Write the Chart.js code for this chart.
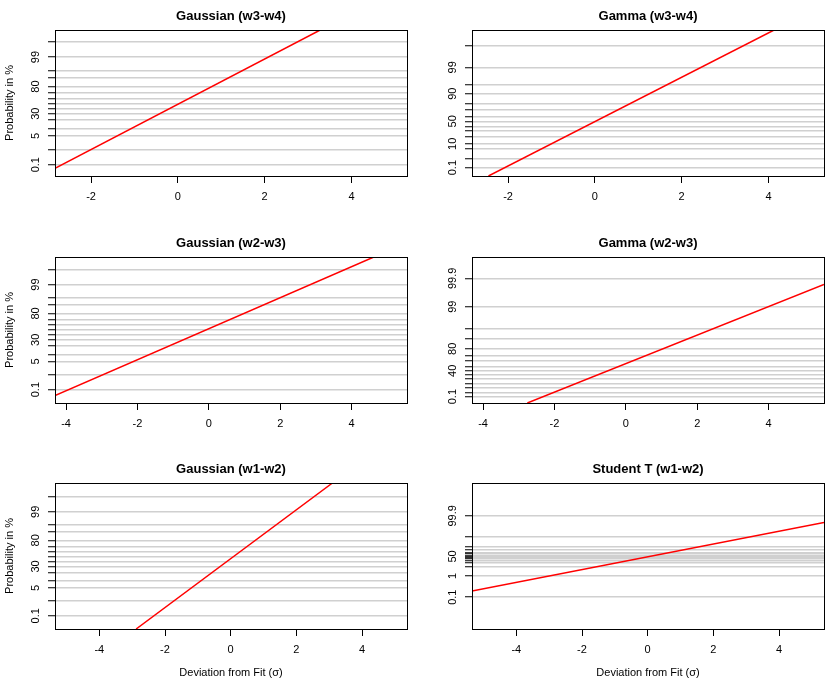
<!DOCTYPE html>
<html>
<head>
<meta charset="utf-8">
<script src="https://cdn.jsdelivr.net/npm/chart.js@4"></script>
<style>
  body { margin: 0; background: #fff; }
  #wrap { position: relative; width: 835px; height: 680px; }
  #wrap canvas { position: absolute; }
</style>
</head>
<body>
<div id="wrap"></div>
<script>
// probability levels (%) on every y axis
const probs = ['0.1', '1', '5', '10', '20', '30', '40', '50', '60', '70', '80', '90', '95', '99', '99.9'];

// theoretical quantiles of those levels for each distribution
const qGauss = [-3.09, -2.33, -1.64, -1.28, -0.84, -0.52, -0.25, 0, 0.25, 0.52, 0.84, 1.28, 1.64, 2.33, 3.09];
const qGammaW34 = [-2.32, -1.87, -1.40, -1.13, -0.77, -0.48, -0.25, 0, 0.25, 0.57, 0.87, 1.38, 1.82, 2.70, 3.80];
const qGammaW23 = [-1.52, -1.35, -1.10, -0.90, -0.65, -0.43, -0.23, 0, 0.27, 0.53, 0.87, 1.40, 1.90, 2.98, 4.40];
const qStudentW12 = [-2.03, -0.97, -0.50, -0.33, -0.195, -0.117, -0.055, 0, 0.055, 0.117, 0.195, 0.33, 0.50, 0.97, 2.03];

// which level labels are printed
const shownGauss = ['0.1', '5', '30', '80', '99'];
const shownGammaW34 = ['0.1', '10', '50', '90', '99'];
const shownGammaW23 = ['0.1', '40', '80', '99', '99.9'];
const shownStudent = ['0.1', '1', '50', '99.9'];

const xTicks = [-4, -2, 0, 2, 4];

// axis ranges
const xRangeW34 = [-2.83, 5.28];
const xRangeW23 = [-4.31, 5.55];
const xRangeW12 = [-5.35, 5.37];
const yRangeGaussW34 = [-3.66, 3.69];
const yRangeGammaW34 = [-2.74, 4.57];
const yRangeGaussW23 = [-3.78, 3.75];
const yRangeGammaW23 = [-1.84, 5.47];
const yRangeGaussW12 = [-3.78, 3.83];
const yRangeStudentW12 = [-3.62, 3.67];

// fitted lines (end points)
const lineGaussW34X = [-2.83, 3.28], lineGaussW34Y = [-3.27, 3.69];
const lineGammaW34X = [-2.45, 4.13], lineGammaW34Y = [-2.74, 4.57];
const lineGaussW23X = [-4.31, 4.62], lineGaussW23Y = [-3.40, 3.75];
const lineGammaW23X = [-2.76, 5.55], lineGammaW23Y = [-1.84, 4.10];
const lineGaussW12X = [-2.88, 3.10], lineGaussW12Y = [-3.78, 3.83];
const lineStudentW12X = [-5.35, 5.37], lineStudentW12Y = [-1.72, 1.70];

const titles = ['Gaussian (w3-w4)', 'Gamma (w3-w4)', 'Gaussian (w2-w3)', 'Gamma (w2-w3)', 'Gaussian (w1-w2)', 'Student T (w1-w2)'];

const family = '"Liberation Sans", Arial, Helvetica, sans-serif';

// R style: full box round the plot and a bold title centred over it
const boxAndTitle = {
  id: 'rtitle',
  afterDraw(chart, args, opts) {
    const { ctx, chartArea: a } = chart;
    ctx.save();
    ctx.strokeStyle = '#000';
    ctx.lineWidth = 1;
    ctx.strokeRect(Math.round(a.left) + 0.5, Math.round(a.top) + 0.5, Math.round(a.right - a.left), Math.round(a.bottom - a.top));
    ctx.font = 'bold 13px ' + family;
    ctx.fillStyle = '#000';
    ctx.textAlign = 'center';
    ctx.textBaseline = 'middle';
    ctx.fillText(opts.text, (a.left + a.right) / 2, 16);
    ctx.restore();
  }
};

const measure = document.createElement('canvas').getContext('2d');
measure.font = '11px ' + family;

const wrap = document.getElementById('wrap');

function panel(i, o) {
  const c = document.createElement('canvas');
  c.width = 417;
  c.height = 227;
  c.style.left = (i % 2 ? 417 : 0) + 'px';
  c.style.top = [0, 227, 453][Math.floor(i / 2)] + 'px';
  wrap.appendChild(c);
  const leftCol = i % 2 === 0;
  const bottomRow = i >= 4;
  const widest = Math.max(...o.shown.map(s => measure.measureText(s).width));

  new Chart(c, {
    type: 'line',
    data: {
      datasets: [{
        data: o.lx.map((x, k) => ({ x: x, y: o.ly[k] })),
        borderColor: '#ff0000',
        borderWidth: 1.5,
        pointRadius: 0,
        tension: 0
      }]
    },
    options: {
      responsive: false,
      animation: false,
      devicePixelRatio: 1,
      layout: { padding: { top: 30, right: 10, left: 0, bottom: 0 } },
      plugins: {
        legend: { display: false },
        tooltip: { enabled: false },
        rtitle: { text: titles[i] }
      },
      scales: {
        x: {
          type: 'linear',
          min: o.xr[0],
          max: o.xr[1],
          afterBuildTicks: s => { s.ticks = xTicks.filter(v => v >= s.min && v <= s.max).map(v => ({ value: v })); },
          afterFit: s => { s.height = 51; },
          grid: { drawOnChartArea: false, drawTicks: true, tickLength: 7, tickColor: '#000', tickWidth: 1 },
          border: { display: false },
          ticks: { color: '#000', font: { size: 11, family: family }, padding: 7, maxRotation: 0, autoSkip: false, callback: v => String(v) },
          title: { display: bottomRow, text: 'Deviation from Fit (σ)', color: '#000', font: { size: 11, family: family }, padding: { top: 0, bottom: 0 } }
        },
        y: {
          type: 'linear',
          min: o.yr[0],
          max: o.yr[1],
          afterBuildTicks: s => { s.ticks = o.q.map(v => ({ value: v })); },
          afterFit: s => { s.width = 55; },
          grid: { color: '#d0d0d0', lineWidth: 1.5, drawTicks: true, tickLength: 7, tickColor: '#000', tickWidth: 1 },
          border: { display: false },
          ticks: {
            color: '#000', font: { size: 11, family: family },
            minRotation: 90, maxRotation: 90, crossAlign: 'center',
            padding: 12 - widest / 2, autoSkip: false,
            callback: (v, k) => o.shown.includes(probs[k]) ? probs[k] : ''
          },
          title: { display: leftCol, text: 'Probability in %', color: '#000', font: { size: 11, family: family }, padding: { top: 3, bottom: 0 } }
        }
      }
    },
    plugins: [boxAndTitle]
  });
}

panel(0, { q: qGauss, shown: shownGauss, xr: xRangeW34, yr: yRangeGaussW34, lx: lineGaussW34X, ly: lineGaussW34Y });
panel(1, { q: qGammaW34, shown: shownGammaW34, xr: xRangeW34, yr: yRangeGammaW34, lx: lineGammaW34X, ly: lineGammaW34Y });
panel(2, { q: qGauss, shown: shownGauss, xr: xRangeW23, yr: yRangeGaussW23, lx: lineGaussW23X, ly: lineGaussW23Y });
panel(3, { q: qGammaW23, shown: shownGammaW23, xr: xRangeW23, yr: yRangeGammaW23, lx: lineGammaW23X, ly: lineGammaW23Y });
panel(4, { q: qGauss, shown: shownGauss, xr: xRangeW12, yr: yRangeGaussW12, lx: lineGaussW12X, ly: lineGaussW12Y });
panel(5, { q: qStudentW12, shown: shownStudent, xr: xRangeW12, yr: yRangeStudentW12, lx: lineStudentW12X, ly: lineStudentW12Y });
</script>
</body>
</html>
